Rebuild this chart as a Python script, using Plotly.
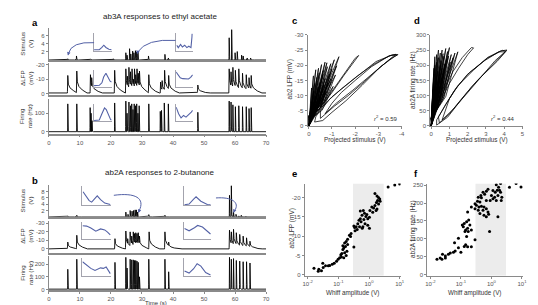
import numpy as np
import plotly.graph_objects as go

W, H = 538, 305
FONT = "Liberation Sans, Arial, sans-serif"
AX = "#8a8a8a"
TK = "#555555"
BLUE = "#5361a6"
INS = "#a3a3ad"

# ---------------- data ----------------
# panel a : ab3A responses to ethyl acetate
a_stim_t = [6.1, 8.9, 13.5, 20.8, 24.8, 25.2, 26.0, 26.4, 27.0, 27.4, 27.9, 28.3, 28.7, 32.1, 37.4, 38.5,
            58.1, 58.9, 60.0, 60.7, 62.1, 62.6, 63.9, 65.0]
a_stim_v = [0.3, 1.0, 0.2, 0.3, 1.8, 1.2, 2.8, 1.5, 2.2, 1.8, 2.3, 2.0, 2.2, 1.0, 1.4, 0.5,
            5.5, 7.5, 1.8, 2.1, 1.2, 1.0, 0.5, 0.5]
a_lfp_t = [6.1, 9.0, 13.4, 13.8, 21.2, 24.8, 25.3, 25.8, 26.3, 26.8, 27.2, 27.6, 28.0, 28.4, 28.8, 29.2,
           32.2, 36.0, 36.5, 37.3, 38.6, 48.0, 58.1, 58.7, 59.3, 60.1, 61.2, 62.4, 63.6, 64.5, 65.2]
a_lfp_v = [-12.5, -15.5, -13.0, -11.0, -16.0, -17.0, -12.0, -18.0, -15.0, -17.0, -10.0, -17.0, -13.0, -17.0,
           -14.0, -15.5, -13.0, -8.0, -9.0, -16.0, -12.5, -6.0, -17.0, -15.0, -18.0, -16.0, -17.0, -14.0,
           -13.0, -11.0, -12.5]
a_fr_t = [6.1, 9.0, 13.3, 13.6, 13.9, 21.2, 24.8, 25.2, 25.8, 26.3, 26.7, 27.1, 27.5, 27.9, 28.3, 28.7, 29.1,
          32.2, 35.9, 36.3, 37.2, 38.5, 48.0, 58.1, 58.7, 59.3, 60.1, 61.2, 62.4, 63.6, 64.5, 65.2]
a_fr_v = [150, 150, 130, 100, 60, 155, 165, 100, 160, 140, 150, 120, 150, 140, 150, 100, 140,
          150, 110, 115, 155, 150, 105, 165, 160, 145, 135, 140, 135, 135, 125, 130]

# panel b : ab2A responses to 2-butanone
b_stim_t = [6.1, 9.0, 21.2, 24.8, 25.5, 26.2, 26.8, 27.3, 27.8, 28.2, 28.6, 32.2, 37.4,
            58.2, 58.8, 59.5, 60.3, 61.2, 62.0, 63.5]
b_stim_v = [0.3, 0.5, 0.2, 1.5, 0.8, 2.0, 1.8, 2.0, 2.2, 2.2, 1.5, 0.7, 0.5,
            6.8, 9.8, 1.5, 0.8, 0.3, 0.5, 0.2]
b_lfp_t = [6.1, 9.0, 21.3, 24.8, 25.4, 26.2, 26.7, 27.2, 27.6, 28.0, 28.4, 28.8, 29.2, 32.3, 37.4, 38.6,
           58.2, 58.8, 59.5, 60.4, 61.5, 62.6, 63.7, 64.8]
b_lfp_v = [-8, -16, -12, -21, -12, -20, -15, -20, -18, -19, -18, -19, -15, -20, -20, -8,
           -22, -20, -23, -19, -17, -15, -13, -9]
b_fr_t = [6.1, 9.0, 21.3, 24.8, 25.2, 26.2, 26.7, 27.2, 27.6, 28.0, 28.4, 28.8, 29.2, 32.2, 37.4, 38.6,
          58.2, 58.8, 59.5, 60.4, 61.5, 62.6, 63.7, 64.8]
b_fr_v = [160, 240, 215, 255, 170, 240, 235, 235, 230, 230, 225, 215, 100, 240, 240, 140,
          255, 240, 245, 230, 225, 220, 220, 210]

# insets (normalised whiff shapes)
ins_a_stim1 = ([0, 0.3, 0.45, 0.56, 0.68, 0.85, 1.0], [0.07, 0.07, 0.2, 0.33, 0.2, 0.1, 0.07])
ins_a_stim2 = ([0.04, 0.13, 0.27, 0.38, 0.52, 0.65, 0.77, 0.9, 0.96, 0.97], [0.33, 0.19, 0.38, 0.23, 0.33, 0.19, 0.27, 0.19, 0.8, 1.0])
ins_a_lfp1 = ([0, 0.3, 0.45, 0.55, 0.68, 0.8, 0.92, 1.0], [0.08, 0.1, 0.25, 0.6, 0.82, 0.6, 0.35, 0.3])
ins_a_lfp2 = ([0, 0.12, 0.25, 0.4, 0.6, 0.75, 0.88, 1.0], [0.9, 0.7, 0.55, 0.5, 0.5, 0.48, 0.58, 0.72])
ins_a_fr1 = ([0, 0.3, 0.45, 0.6, 0.7, 0.82, 0.95, 1.0], [0.05, 0.08, 0.45, 0.8, 0.7, 0.35, 0.1, 0.08])
ins_a_fr2 = ([0, 0.15, 0.3, 0.45, 0.6, 0.78, 0.92, 1.0], [0.85, 0.45, 0.2, 0.35, 0.25, 0.4, 0.55, 0.65])
ins_b_stim1 = ([0.02, 0.12, 0.24, 0.33, 0.42, 0.53, 0.65, 0.8, 1.0], [0.72, 0.5, 0.25, 0.17, 0.3, 0.5, 0.3, 0.12, 0.05])
ins_b_stim2 = ([0.03, 0.2, 0.37, 0.46, 0.64, 0.88, 1.0], [0.03, 0.07, 0.33, 0.45, 0.22, 0.05, 0.03])
ins_b_lfp1 = ([0, 0.15, 0.3, 0.48, 0.65, 0.8, 0.9, 1.0], [0.82, 0.8, 0.68, 0.48, 0.62, 0.56, 0.42, 0.25])
ins_b_lfp2 = ([0.03, 0.2, 0.4, 0.52, 0.7, 0.88, 1.0], [0.64, 0.5, 0.7, 0.84, 0.74, 0.44, 0.3])
ins_b_fr1 = ([0, 0.15, 0.3, 0.45, 0.55, 0.65, 0.75, 0.85, 1.0], [0.8, 0.6, 0.42, 0.3, 0.4, 0.45, 0.42, 0.5, 0.12])
ins_b_fr2 = ([0.03, 0.2, 0.37, 0.5, 0.64, 0.82, 1.0], [0.27, 0.15, 0.4, 0.69, 0.55, 0.18, 0.04])

# panel c : LFP vs projected stimulus (large loops + dense excursions)
c_loops = [
    [(-0.25, -1.3), (-0.6, -1.8), (-1.0, -4.5), (-1.6, -8.3), (-2.3, -13.4), (-3.0, -18.8), (-3.5, -22.0), (-3.85, -23.5),
     (-3.6, -23.4), (-2.9, -21.2), (-2.0, -15.8), (-1.3, -11.3), (-1.0, -9.6), (-0.6, -6.5), (-0.3, -3.0)],
    [(-0.5, -2.5), (-1.1, -6.5), (-1.7, -10.0), (-2.4, -14.6), (-3.1, -19.6), (-3.8, -23.4),
     (-3.5, -23.2), (-2.8, -20.3), (-2.1, -16.5), (-1.4, -12.2), (-0.9, -8.8), (-0.5, -5.0)],
    [(-0.7, -4.0), (-1.2, -7.6), (-1.9, -11.8), (-2.6, -16.2), (-3.3, -20.8), (-3.75, -23.6),
     (-3.45, -23.0), (-2.7, -19.5), (-2.0, -15.0), (-1.4, -11.0), (-1.0, -7.5)],
    [(-0.5, -6.0), (-1.0, -11.0), (-1.5, -16.5), (-2.15, -23.2), (-2.0, -22.3), (-1.3, -14.5), (-0.7, -8.0)],
]
c_tip_x = [-1.3, -1.1, -0.95, -0.7, -0.55, -0.8, -1.0, -0.62, -0.45, -0.9, -1.15, -0.35, -0.7, -0.5, -0.25, -0.85,
           -0.4, -0.6, -0.2, -0.3, -0.75, -1.05, -0.15, -0.5, -0.35, -0.6, -0.78, -0.42, -0.3, -0.2, -0.12, -1.2,
           -0.95, -0.65]
c_tip_y = [-22.8, -21.8, -20.5, -21.0, -20.2, -19.5, -18.8, -18.2, -17.5, -17.2, -16.8, -16.0, -15.5, -14.5, -14.0, -14.2,
           -12.8, -12.0, -11.5, -10.0, -11.2, -13.0, -8.5, -9.0, -7.5, -16.8, -20.8, -19.0, -18.5, -16.5, -12.5, -19.8,
           -15.5, -13.5]

# panel d : firing rate vs projected stimulus
d_loops = [
    [(0.3, 3), (0.9, 29), (1.6, 83), (2.2, 128), (2.7, 160), (3.6, 212), (4.1, 246),
     (3.9, 249), (3.04, 222), (1.97, 169), (1.25, 115), (0.7, 60), (0.3, 20)],
    [(0.45, 10), (1.0, 40), (1.7, 92), (2.5, 148), (3.4, 203), (4.05, 244),
     (3.7, 244), (2.9, 214), (2.1, 176), (1.4, 128), (0.8, 72), (0.4, 30)],
    [(0.6, 20), (1.2, 55), (2.0, 110), (2.8, 165), (3.5, 215), (4.15, 250),
     (3.8, 247), (3.1, 226), (2.3, 183), (1.5, 135), (1.0, 90)],
    [(0.5, 80), (1.0, 140), (1.5, 190), (2.0, 235), (2.32, 257), (2.2, 258), (1.7, 225), (1.2, 180), (0.8, 130), (0.5, 90)],
]
d_tip_x = [1.46, 1.3, 1.1, 1.0, 0.8, 0.6, 0.9, 0.7, 0.5, 0.4, 0.3, 0.2, 0.55, 0.75, 1.2, 0.35, 0.15, 0.6, 0.45,
           0.25, 0.1, 0.85, 0.65, 0.95, 0.3, 0.4, 0.2, 0.5, 1.05, 0.15, 0.7, 0.35]
d_tip_y = [244, 240, 235, 258, 255, 250, 245, 230, 240, 225, 210, 200, 215, 205, 225, 180, 170, 190, 160,
           150, 120, 220, 238, 230, 235, 250, 228, 200, 210, 190, 175, 130]

# panel e : whiff amplitude vs ab2 LFP
e_x = [4.2, 6.9, 10.0, 1.56, 1.82, 2.04, 2.24, 1.9, 1.74, 2.3, 2.05, 1.56, 1.41, 1.82, 1.23, 1.07, 1.32, 1.7,
       0.52, 0.65, 0.71, 0.59, 0.79, 0.52, 0.68, 0.91, 1.03, 0.47, 0.55, 0.43, 0.38, 0.34, 0.49, 0.63, 0.74,
       0.91, 1.03, 0.41, 0.32, 0.35, 0.26, 0.25, 0.2, 0.18, 0.16, 0.2, 0.17, 0.15, 0.14, 0.19, 0.16, 0.13,
       0.18, 0.15, 0.126, 0.11, 0.32, 0.098, 0.087, 0.073, 0.063, 0.052, 0.047, 0.038, 0.032, 0.028, 0.023,
       0.016, 0.022, 0.031, 0.12, 0.14, 0.23, 0.6, 0.85]
e_y = [-22.7, -23.2, -23.5, -21.0, -20.4, -20.0, -19.6, -19.2, -18.7, -19.0, -18.3, -17.9, -17.3, -17.0, -17.5,
       -16.6, -16.2, -16.6, -16.5, -16.6, -15.9, -15.4, -15.1, -14.5, -14.3, -14.5, -14.9, -14.1, -13.7, -13.2,
       -12.4, -12.2, -12.4, -12.4, -13.2, -12.8, -12.0, -11.7, -12.6, -11.4, -10.7, -9.9, -9.2, -8.6, -8.2,
       -7.8, -7.3, -6.9, -6.5, -6.1, -5.7, -5.5, -5.0, -4.4, -4.6, -4.4, -7.2, -4.0, -3.5, -3.0, -2.7, -2.4,
       -2.3, -2.3, -1.9, -1.0, -1.4, -1.7, -0.9, -3.0, -5.2, -7.5, -10.2, -12.0, -15.6]

# panel f : whiff amplitude vs ab2A firing rate
f_x = [1.99, 1.44, 6.4, 9.3, 3.9, 1.71, 1.55, 1.33, 1.12, 0.77, 0.68, 0.6, 0.53, 0.45, 0.37, 0.47, 0.35, 0.42,
       0.29, 0.32, 0.39, 0.47, 0.57, 0.37, 0.53, 0.68, 0.77, 0.42, 0.57, 0.68, 0.81, 0.29, 0.22, 1.99, 2.19,
       1.63, 2.09, 1.27, 1.12, 1.44, 1.84, 1.0, 0.91, 0.68, 1.63, 0.166, 0.18, 0.154, 0.129, 0.12, 0.143,
       0.166, 0.197, 0.22, 0.174, 0.136, 0.154, 0.111, 0.083, 0.29, 0.87, 0.062, 0.143, 0.129, 0.166, 0.22,
       0.083, 0.1, 0.065, 0.057, 0.045, 0.039, 0.031, 0.025, 0.021, 0.024, 0.0165, 0.031]
f_y = [255, 251, 255, 245, 244, 244, 236, 230, 235, 239, 233, 225, 230, 221, 216, 215, 205, 203,
       198, 194, 189, 191, 189, 180, 180, 184, 175, 171, 166, 162, 169, 184, 189, 230, 216,
       221, 207, 216, 212, 207, 236, 221, 207, 207, 162, 175, 153, 148, 143, 134, 125,
       130, 139, 125, 121, 121, 107, 139, 102, 98, 121, 89, 84, 79, 78, 78,
       75, 63, 66, 63, 61, 57, 52, 57, 47, 43, 43, 47]

# ---------------- helpers ----------------
def fx(x):
    return x / W


def fy(y):
    return 1 - y / H


def envelope(times, peaks, base, offs, shape):
    t = np.arange(0, 70.001, 0.01)
    mag = np.zeros_like(t)
    sign = 1.0
    for ti, p in zip(times, peaks):
        a = abs(p - base)
        sign = np.sign(p - base) if p != base else sign
        mag = np.maximum(mag, a * np.interp(t - ti, offs, shape, left=0, right=0))
    return t, base + sign * mag


fig = go.Figure()
layout = {}
annotations = []
shapes = []


def axes(i, xd, yd, xr, yr, xkw=None, ykw=None):
    xn = "xaxis" if i == 1 else f"xaxis{i}"
    yn = "yaxis" if i == 1 else f"yaxis{i}"
    base = dict(showgrid=False, zeroline=False, showline=True, linecolor=AX, linewidth=1,
                ticks="outside", ticklen=2, tickcolor=AX, tickwidth=0.8,
                tickfont=dict(size=6, color=TK, family=FONT), fixedrange=True)
    xa = dict(base, domain=[fx(xd[0]), fx(xd[1])], range=xr, anchor=("y" if i == 1 else f"y{i}"))
    ya = dict(base, domain=[fy(yd[1]), fy(yd[0])], range=yr, anchor=("x" if i == 1 else f"x{i}"))
    if xkw:
        xa.update(xkw)
    if ykw:
        ya.update(ykw)
    layout[xn] = xa
    layout[yn] = ya


def line(i, x, y, color="black", width=0.9):
    xa = "x" if i == 1 else f"x{i}"
    ya = "y" if i == 1 else f"y{i}"
    fig.add_trace(go.Scatter(x=x, y=y, mode="lines", line=dict(color=color, width=width),
                             xaxis=xa, yaxis=ya, hoverinfo="skip", showlegend=False))


def text(x, y, s, size=6.5, color="#333333", angle=0, bold=False, xanchor="center"):
    if bold:
        s = f"<b>{s}</b>"
    annotations.append(dict(x=fx(x), y=fy(y), xref="paper", yref="paper", text=s, showarrow=False,
                            textangle=angle, xanchor=xanchor, yanchor="middle",
                            font=dict(size=size, color=color, family=FONT)))


hide_x = dict(showticklabels=False, ticks="", linewidth=1.6)
t_x = dict(tickvals=[0, 10, 20, 30, 40, 50, 60, 70], linewidth=1.6)

STIM_O, STIM_S = [-0.06, 0, 0.1, 0.2], [0, 1, 0.2, 0]
LFP_O, LFP_S = [-0.12, 0, 0.12, 0.4, 1.2, 3.0], [0, 1, 0.55, 0.35, 0.2, 0]
FR_O, FR_S = [-0.06, 0, 0.08, 0.18], [0, 1, 0.3, 0]

# ---- panel a ----
axes(1, (39.3, 259), (17, 50), [0, 70], [0, 8], hide_x, dict(tickvals=[2, 4, 6]))
axes(2, (39.3, 259), (53, 86), [0, 70], [1.0, -21.0], hide_x,
     dict(tickvals=[-20, -10, 0], ticktext=["-20", "-10", "0"]))
axes(3, (39.3, 259), (90, 125), [0, 70], [-9, 175], t_x, dict(tickvals=[0, 100]))
line(1, *envelope(a_stim_t, a_stim_v, 0.0, STIM_O, STIM_S))
line(2, *envelope(a_lfp_t, a_lfp_v, -0.6, LFP_O, LFP_S))
line(3, *envelope(a_fr_t, a_fr_v, 1.0, FR_O, FR_S))

# ---- panel b ----
axes(4, (39.3, 259), (177, 210), [0, 70], [0, 10.2], hide_x, dict(tickvals=[2, 4, 6, 8]))
axes(5, (39.3, 259), (214, 247), [0, 70], [5, -33], hide_x,
     dict(tickvals=[-30, -20, -10, 0], ticktext=["-30", "-20", "-10", "0"]))
axes(6, (39.3, 259), (250, 285), [0, 70], [-8, 265], t_x, dict(tickvals=[0, 100, 200]))
line(4, *envelope(b_stim_t, b_stim_v, 0.0, STIM_O, STIM_S))
line(5, *envelope(b_lfp_t, b_lfp_v, 0.0, LFP_O, LFP_S))
line(6, *envelope(b_fr_t, b_fr_v, 2.0, FR_O, FR_S))

# ---- panel c ----
axes(7, (301, 396), (24.3, 117.3), [0.05, -4.0], [0, -30],
     dict(tickvals=[0, -1, -2, -3, -4], ticktext=["0", "-1", "-2", "-3", "-4"]),
     dict(tickvals=[0, -5, -10, -15, -20, -25, -30], ticktext=["0", "-5", "-10", "-15", "-20", "-25", "-30"]))
cx, cy = [], []
for tx, ty in zip(c_tip_x, c_tip_y):
    cx += [0, tx, tx * 0.55, 0, None]
    cy += [0, ty, ty * 0.4, ty * 0.15, None]
for lp in c_loops:
    cx += [p[0] for p in lp] + [lp[0][0], None]
    cy += [p[1] for p in lp] + [lp[0][1], None]
line(7, cx, cy, width=0.75)

# ---- panel d ----
axes(8, (425, 518.3), (24.3, 117.3), [-0.05, 5], [0, 300],
     dict(tickvals=[0, 1, 2, 3, 4, 5]), dict(tickvals=[0, 50, 100, 150, 200, 250, 300]))
dx, dy = [], []
for tx, ty in zip(d_tip_x, d_tip_y):
    dx += [0, tx, tx * 0.55, 0, None]
    dy += [0, ty, ty * 0.4, ty * 0.1, None]
for lp in d_loops:
    dx += [p[0] for p in lp] + [lp[0][0], None]
    dy += [p[1] for p in lp] + [lp[0][1], None]
line(8, dx, dy, width=0.75)

# ---- panel e ----
logt = dict(type="log", tickvals=[0.01, 0.1, 1, 10],
            ticktext=["10<sup>-2</sup>", "10<sup>-1</sup>", "10<sup>0</sup>", "10<sup>1</sup>"])
axes(9, (298, 395), (176, 270), [-2.1, 1.03], [0.25, -23.6], logt,
     dict(tickvals=[0, -5, -10, -15, -20], ticktext=["0", "-5", "-10", "-15", "-20"]))
fig.add_trace(go.Scatter(x=[0.3, 3, 3, 0.3, 0.3], y=[0.25, 0.25, -23.6, -23.6, 0.25], fill="toself",
                         fillcolor="#ececec", line=dict(width=0), mode="lines", xaxis="x9", yaxis="y9",
                         hoverinfo="skip", showlegend=False))
fig.add_trace(go.Scatter(x=e_x, y=e_y, mode="markers", marker=dict(size=3, color="black", line=dict(width=0)),
                         xaxis="x9", yaxis="y9", hoverinfo="skip", showlegend=False))

# ---- panel f ----
axes(10, (422, 519), (176, 270), [-2.1, 1.04], [-2.7, 254.6], logt,
     dict(tickvals=[0, 50, 100, 150, 200, 250]))
fig.add_trace(go.Scatter(x=[0.3, 3, 3, 0.3, 0.3], y=[-2.7, -2.7, 254.6, 254.6, -2.7], fill="toself",
                         fillcolor="#ececec", line=dict(width=0), mode="lines", xaxis="x10", yaxis="y10",
                         hoverinfo="skip", showlegend=False))
fig.add_trace(go.Scatter(x=f_x, y=f_y, mode="markers", marker=dict(size=3, color="black", line=dict(width=0)),
                         xaxis="x10", yaxis="y10", hoverinfo="skip", showlegend=False))

# ---- insets ----
ins_kw = dict(showticklabels=False, ticks="", linecolor=INS, linewidth=1.3)
insets = [
    ((85, 103), (22.7, 40.7), ins_a_stim1), ((168, 185), (22.7, 40.7), ins_a_stim2),
    ((85, 103), (60, 77.5), ins_a_lfp1), ((168, 185), (60, 77.5), ins_a_lfp2),
    ((85, 103), (95, 112.5), ins_a_fr1), ((168, 185), (95, 112.5), ins_a_fr2),
    ((73.3, 102), (178.3, 198.3), ins_b_stim1), ((175.7, 203.3), (178.3, 198.3), ins_b_stim2),
    ((73.3, 102), (215.7, 232.3), ins_b_lfp1), ((175.7, 203.3), (215.7, 232.3), ins_b_lfp2),
    ((73.3, 102), (251.7, 270), ins_b_fr1), ((175.7, 203.3), (251.7, 270), ins_b_fr2),
]
for k, (xd, yd, (ix, iy)) in enumerate(insets):
    i = 11 + k
    axes(i, xd, yd, [0, 1.02], [0, 1.03], ins_kw, ins_kw)
    line(i, ix, iy, color=BLUE, width=1.1)


# ---- arrows ----
def P(x, y):
    return f"{fx(x):.5f},{fy(y):.5f}"


for path in [f"M{P(85, 32.3)} Q{P(62, 31)} {P(59, 43.5)}",
             f"M{P(167.5, 30)} Q{P(138, 28)} {P(129, 42)}",
             f"M{P(105, 188)} C{P(127, 185)} {P(137, 191)} {P(130.5, 204)}",
             f"M{P(208.3, 190.7)} C{P(224, 189.5)} {P(233, 195)} {P(227, 204)}"]:
    shapes.append(dict(type="path", path=path, xref="paper", yref="paper",
                       line=dict(color=BLUE, width=1)))
for (x, y, ax_, ay_) in [(58.6, 45.5, 1, -4), (128.5, 44, 1, -4), (129.8, 206, 1.5, -4), (226, 206, 1.5, -4)]:
    annotations.append(dict(x=fx(x), y=fy(y), xref="paper", yref="paper", text="", showarrow=True,
                            ax=ax_, ay=ay_, arrowhead=2, arrowsize=0.7, arrowwidth=1, arrowcolor=BLUE))

# ---- texts ----
text(25, 12, "a", size=9.5, color="black", bold=True)
text(25, 173, "b", size=9.5, color="black", bold=True)
text(288, 10, "c", size=9.5, color="black", bold=True)
text(412, 10, "d", size=9.5, color="black", bold=True)
text(288, 166, "e", size=9.5, color="black", bold=True)
text(411, 166, "f", size=9.5, color="black", bold=True)
text(152, 6, "ab3A responses to ethyl acetate", size=8, color="#222222")
text(152, 165, "ab2A responses to 2-butanone", size=8, color="#222222")
for yy in (33, 193):
    text(16.5, yy, "Stimulus<br>(V)", size=6.2, angle=-90)
for yy in (69, 230):
    text(16.5, yy, "ΔLFP<br>(mV)", size=6.2, angle=-90)
for yy in (107, 267):
    text(16.5, yy, "Firing<br>rate (Hz)", size=6.2, angle=-90)
text(148, 298, "Time (s)", size=6)
text(283, 70, "ab2 LFP (mV)", size=6.5, angle=-90)
text(407, 70, "ab2A firing rate (Hz)", size=6.5, angle=-90)
text(349, 131.5, "Projected stimulus (V)", size=6.3)
text(472, 131.5, "Projected stimulus (V)", size=6.3)
text(380, 109.5, "<i>r</i><sup>2</sup> = 0.59", size=6)
text(499, 109.5, "<i>r</i><sup>2</sup> = 0.44", size=6)
text(285, 222, "ab2 LFP (mV)", size=6.5, angle=-90)
text(407, 222, "ab2A firing rate (Hz)", size=6.5, angle=-90)
text(346, 288, "Whiff amplitude (V)", size=6.3)
text(470, 288, "Whiff amplitude (V)", size=6.3)

fig.update_layout(width=W, height=H, margin=dict(l=0, r=0, t=0, b=0), paper_bgcolor="white",
                  plot_bgcolor="rgba(0,0,0,0)", showlegend=False, annotations=annotations, shapes=shapes,
                  font=dict(family=FONT), **layout)
fig.write_html("out.html")
